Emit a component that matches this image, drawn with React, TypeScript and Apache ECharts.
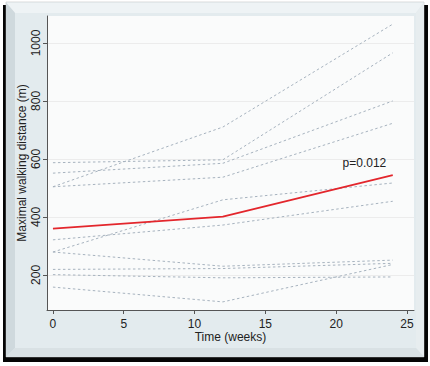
import React, { useEffect, useRef } from "react";
import * as echarts from "echarts";

// Time points (weeks)
const weeks = [0, 12, 24];

// Individual patients' maximal walking distance (m)
const patient1 = [504, 710, 1065];
const patient2 = [587, 597, 966];
const patient3 = [551, 585, 800];
const patient4 = [504, 537, 723];
const patient5 = [279, 459, 517];
const patient6 = [321, 372, 454];
const patient7 = [279, 230, 251];
const patient8 = [219, 222, 240];
const patient9 = [201, 190, 193];
const patient10 = [158, 107, 236];

// Group mean
const meanDistance = [360, 401, 544];

const individuals = [
  patient1, patient2, patient3, patient4, patient5,
  patient6, patient7, patient8, patient9, patient10,
];

const xTicks = [0, 5, 10, 15, 20, 25];
const yTicks = [200, 400, 600, 800, 1000];
const pLabel = "p=0.012";
const pLabelAt = [22, 586];

const FONT = "'Liberation Sans', Arial, sans-serif";

export default function App() {
  const ref = useRef<HTMLDivElement>(null);

  useEffect(() => {
    if (!ref.current) return;
    const chart = echarts.init(ref.current, undefined, { renderer: "svg" });

    const toPts = (arr: number[]) => weeks.map((w, i) => [w, arr[i]]);

    const series: any[] = individuals.map((arr, k) => ({
      name: "patient" + (k + 1),
      type: "line",
      data: toPts(arr),
      symbol: "none",
      silent: true,
      z: 2,
      lineStyle: { color: "#a7b3bf", width: 1, type: [2.5, 2.5] },
    }));
    series.push({
      name: "mean",
      type: "line",
      data: toPts(meanDistance),
      symbol: "none",
      z: 5,
      lineStyle: { color: "#e3262c", width: 1.8 },
      markPoint: {
        symbol: "circle",
        symbolSize: 0,
        data: [{ coord: pLabelAt }],
        label: {
          show: true,
          position: "inside",
          formatter: pLabel,
          color: "#222",
          fontSize: 12,
          fontFamily: FONT,
        },
      },
    });

    chart.setOption({
      animation: false,
      backgroundColor: "#ffffff",
      graphic: [
        { type: "rect", z: -10, shape: { x: 3, y: 5, width: 425, height: 357 }, style: { fill: "#050505" } },
        { type: "rect", z: -9, shape: { x: 6, y: 2, width: 418, height: 355 }, style: { fill: "#dfe7ea", stroke: "#b5b5b5", lineWidth: 0.5 } },
        { type: "polygon", z: -8, shape: { points: [[6, 2.5], [424, 2.5], [416, 13], [15, 13]] }, style: { fill: "#eef3f5" } },
        { type: "polygon", z: -8, shape: { points: [[6, 2.5], [15, 13], [15, 348], [6, 357]] }, style: { fill: "#cfd9dd" } },
        { type: "polygon", z: -8, shape: { points: [[424, 2.5], [424, 357], [416, 348], [416, 13]] }, style: { fill: "#e7edef" } },
        { type: "polygon", z: -8, shape: { points: [[6, 357], [15, 348], [416, 348], [424, 357]] }, style: { fill: "#d9e1e4" } },
        { type: "rect", z: -7, shape: { x: 15, y: 13, width: 401, height: 335 }, style: { fill: "#e3ebee" } },
      ],
      grid: {
        left: 47,
        right: 16,
        top: 16,
        bottom: 56,
        show: true,
        backgroundColor: "#fafbfb",
        borderWidth: 0,
      },
      xAxis: {
        type: "value",
        min: -0.42,
        max: 25.5,
        name: "Time (weeks)",
        nameLocation: "middle",
        nameGap: 21,
        nameMoveOverlap: false,
        nameTextStyle: { color: "#222", fontSize: 12, fontFamily: FONT },
        axisLine: { show: true, onZero: false, lineStyle: { color: "#555", width: 1 } },
        axisTick: { show: true, length: 4, customValues: xTicks, lineStyle: { color: "#555" } },
        axisLabel: { customValues: xTicks, margin: 8, color: "#222", fontSize: 12, fontFamily: FONT },
        splitLine: { show: false },
      },
      yAxis: {
        type: "value",
        min: 79,
        max: 1093,
        name: "Maximal walking distance (m)",
        nameLocation: "middle",
        nameRotate: 90,
        nameGap: 19,
        nameMoveOverlap: false,
        nameTextStyle: { color: "#222", fontSize: 12, fontFamily: FONT },
        axisLine: { show: true, onZero: false, lineStyle: { color: "#555", width: 1 } },
        axisTick: { show: true, length: 4, customValues: yTicks, lineStyle: { color: "#555" } },
        axisLabel: {
          customValues: yTicks,
          rotate: 90,
          margin: 5,
          color: "#222",
          fontSize: 12,
          fontFamily: FONT,
          formatter: (v: number) => String(v),
        },
        splitLine: { show: true, lineStyle: { color: "#ececec", width: 1 } },
      },
      series,
    });

    return () => chart.dispose();
  }, []);

  return (
    <div
      ref={ref}
      style={{ position: "absolute", left: 0, top: 0, width: 430, height: 366 }}
    />
  );
}
